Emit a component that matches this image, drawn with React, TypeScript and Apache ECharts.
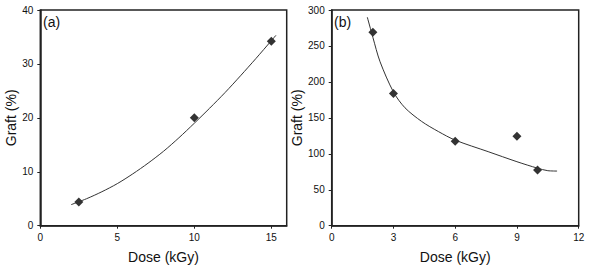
import React, { useEffect, useRef } from "react";
import * as echarts from "echarts";

// Panel (a)
const pointsA: number[][] = [
  [2.5, 4.4],
  [10, 20],
  [15, 34.2],
];
const curveA: number[][] = [
  [2.0, 3.9], [3, 5.0], [4, 6.3], [5, 7.8], [6, 9.6], [7, 11.6], [8, 13.8],
  [9, 16.3], [10, 19.0], [11, 21.8], [12, 24.7], [13, 27.8], [14, 31.0],
  [15, 34.3], [15.3, 35.3],
];
// Panel (b)
const pointsB: number[][] = [
  [2, 269],
  [3, 184],
  [6, 117.5],
  [9, 124.5],
  [10, 77.5],
];
const curveB: number[][] = [
  [1.73, 290], [2.0, 262], [2.35, 228], [3.0, 186], [3.56, 164], [4.37, 145],
  [5.18, 131], [6.0, 119], [7.6, 103], [9.0, 89], [10, 80], [10.5, 76.5], [10.95, 76],
];
const panelLabels = ["(a)", "(b)"];
const xTitle = "Dose (kGy)";
const yTitle = "Graft (%)";

const FONT = "'Liberation Sans', Arial, sans-serif";
const AX = "#222";

export default function App() {
  const ref = useRef<HTMLDivElement>(null);
  useEffect(() => {
    const chart = echarts.init(ref.current!, undefined, { renderer: "svg" });
    const mkX = (gi: number, max: number, interval: number, showMax: boolean) => ({
      type: "value" as const,
      gridIndex: gi,
      min: 0,
      max,
      interval,
      name: xTitle,
      nameLocation: "middle" as const,
      nameGap: 24,
      nameTextStyle: { fontFamily: FONT, fontSize: 14, color: "#111" },
      axisLine: { show: true, lineStyle: { color: AX, width: 1.5 } },
      axisTick: { show: true, length: 3, lineStyle: { color: AX, width: 1 } },
      axisLabel: { fontFamily: FONT, fontSize: 10, color: "#111", margin: 7, showMaxLabel: showMax },
      splitLine: { show: false },
    });
    const mkY = (gi: number, max: number, interval: number, gap: number) => ({
      type: "value" as const,
      gridIndex: gi,
      min: 0,
      max,
      interval,
      name: yTitle,
      nameLocation: "middle" as const,
      nameGap: gap,
      nameTextStyle: { fontFamily: FONT, fontSize: 14, color: "#111" },
      axisLine: { show: true, lineStyle: { color: AX, width: 1.5 } },
      axisTick: { show: true, length: 3, lineStyle: { color: AX, width: 1 } },
      axisLabel: { fontFamily: FONT, fontSize: 10, color: "#111", margin: 7 },
      splitLine: { show: false },
    });
    chart.setOption({
      animation: false,
      backgroundColor: "#fff",
      grid: [
        { left: 40.3, top: 10, width: 246.4, height: 215.7, show: true, borderColor: AX, borderWidth: 1.5 },
        { left: 331.7, top: 10, width: 247, height: 215.7, show: true, borderColor: AX, borderWidth: 1.5 },
      ],
      xAxis: [mkX(0, 16, 5, false), mkX(1, 12, 3, true)],
      yAxis: [mkY(0, 40, 10, 20), mkY(1, 300, 50, 26)],
      graphic: [
        { type: "text", left: 43, top: 15, style: { text: panelLabels[0], font: `14px ${FONT}`, fill: "#111" } },
        { type: "text", left: 334, top: 15, style: { text: panelLabels[1], font: `14px ${FONT}`, fill: "#111" } },
      ],
      series: [
        {
          type: "line", xAxisIndex: 0, yAxisIndex: 0, data: curveA, smooth: 0.3,
          showSymbol: false, lineStyle: { color: "#333", width: 1 }, silent: true,
        },
        {
          type: "scatter", xAxisIndex: 0, yAxisIndex: 0, data: pointsA,
          symbol: "diamond", symbolSize: 9, itemStyle: { color: "#000" },
        },
        {
          type: "line", xAxisIndex: 1, yAxisIndex: 1, data: curveB, smooth: 0.3,
          showSymbol: false, lineStyle: { color: "#333", width: 1 }, silent: true,
        },
        {
          type: "scatter", xAxisIndex: 1, yAxisIndex: 1, data: pointsB,
          symbol: "diamond", symbolSize: 9, itemStyle: { color: "#000" },
        },
      ],
    });
    return () => chart.dispose();
  }, []);
  return (
    <div
      ref={ref}
      style={{ position: "fixed", left: 0, top: 0, width: 589, height: 272, background: "#fff" }}
    />
  );
}
